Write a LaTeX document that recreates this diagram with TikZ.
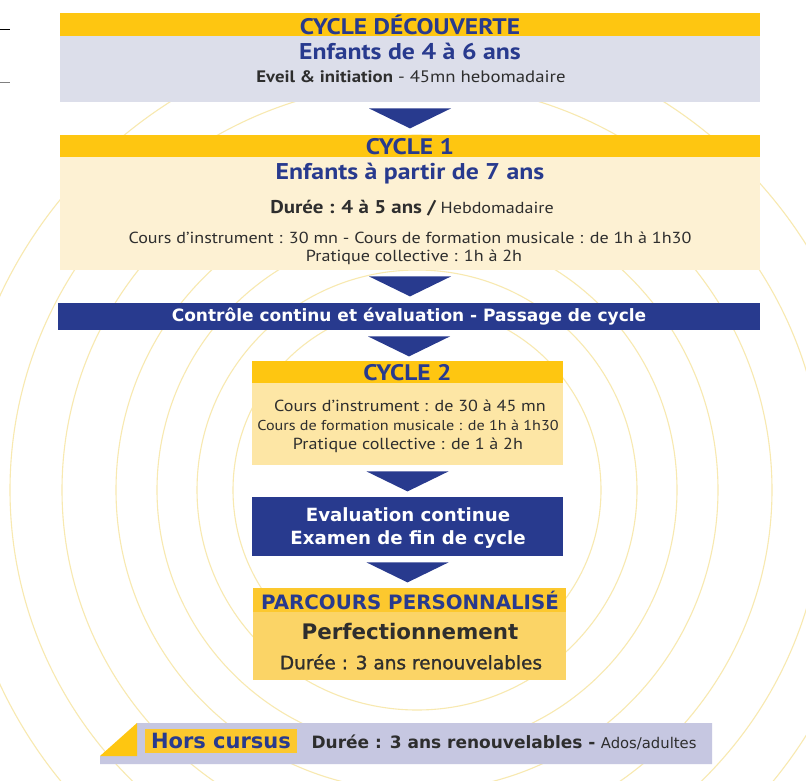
\documentclass[tikz,border=0pt]{standalone}
\usepackage{fontspec}
\setmainfont{PT Sans}[FakeStretch=1.13]
\newfontfamily\verdfont{DejaVu Sans}
\newfontfamily\verdsemi{DejaVu Sans}[FakeBold=1.3]
\usetikzlibrary{positioning}

\definecolor{navy}{HTML}{283A8E}
\definecolor{gold}{HTML}{FEC611}
\definecolor{lav}{HTML}{DCDEEA}
\definecolor{cream}{HTML}{FDF1D3}
\definecolor{pale}{HTML}{FDE6A5}
\definecolor{parcband}{HTML}{FCC82E}
\definecolor{parcbody}{HTML}{FBD466}
\definecolor{horsbar}{HTML}{C6C7E1}
\definecolor{ringcol}{HTML}{F8E9B0}
\definecolor{ink}{HTML}{2E2E2E}

% triangle pointing down under a box
\newcommand{\pointer}[1]{%
  \fill[navy] ([xshift=-41pt,yshift=-6pt]#1) -- ([xshift=41pt,yshift=-6pt]#1)
    -- ([yshift=-26pt]#1) -- cycle;}

\begin{document}
\begin{tikzpicture}[
	x=1pt, y=-1pt,
	panel/.style={inner sep=0pt, anchor=north},
	band/.style={panel, fill=gold, minimum height=23pt},
	ring/.style={draw=ringcol, line width=1.1pt},
	head/.style={text=navy, font=\bfseries\fontsize{22.5}{22.5}\selectfont},
	kids/.style={text=navy, font=\bfseries\fontsize{22.8}{22.8}\selectfont},
	body/.style={text=ink, font=\fontsize{16}{16}\selectfont},
	whitetxt/.style={text=white, font=\verdfont\bfseries\fontsize{17}{17}\selectfont}
	]

	\clip (0,0) rectangle (806,780);
	\fill[white] (0,0) rectangle (806,780);
	\useasboundingbox (0,0) rectangle (806,780);

	% rings in the background
	\foreach \r in {184,220,260,301,355,407,460}
		\draw[ring] (417,490) circle[radius=\r];

	\draw[black, line width=1pt] (0,29) -- (10,29);
	\draw[gray, line width=1pt] (0,82) -- (10,82);

	% cycle decouverte
	\node[panel, fill=lav, minimum width=700pt, minimum height=89pt] (decouv) at (410,13) {};
	\node[band, minimum width=700pt] (decouvHead) at (decouv.north) {};
	\node[head] (decouvTitle) at (decouvHead) {CYCLE DÉCOUVERTE};
	\node[kids] (decouvKids) at (410,51) {Enfants de 4 à 6 ans};
	\node[body, font=\fontsize{16.6}{16.6}\selectfont] (decouvTxt) at (411,77) {\textbf{Eveil \& initiation} - 45mn hebomadaire};

	% cycle 1
	\node[panel, fill=cream, minimum width=700pt, minimum height=135pt] (cyc1) at (410,135) {};
	\node[band, minimum width=700pt, minimum height=22pt] (cyc1Head) at (cyc1.north) {};
	\node[head] (cyc1Title) at (cyc1Head) {CYCLE 1};
	\node[kids] (cyc1Kids) at (410,174) {Enfants à partir de 7 ans};
	\node[body] (cyc1Dur) at (412,208) {{\bfseries\fontsize{18.5}{18.5}\selectfont Durée : 4 à 5 ans /} Hebdomadaire};
	\node[body] (cyc1Cours) at (410,238) {Cours d’instrument : 30 mn - Cours de formation musicale : de 1h à 1h30};
	\node[body] (cyc1Prat) at (414,257) {Pratique collective : 1h à 2h};

	% controle
	\node[panel, fill=navy, minimum width=702pt, minimum height=27pt] (ctrl) at (409,303) {};
	\node[whitetxt] (ctrlTxt) at (ctrl) {Contrôle continu et évaluation - Passage de cycle};

	% cycle 2
	\node[panel, fill=pale, minimum width=311pt, minimum height=104pt] (cyc2) at (407.5,361) {};
	\node[band, minimum width=311pt, minimum height=22pt] (cyc2Head) at (cyc2.north) {};
	\node[head] (cyc2Title) at (cyc2Head) {CYCLE 2};
	\node[body] (cyc2a) at (410,406) {Cours d’instrument : de 30 à 45 mn};
	\node[body, font=\fontsize{14.3}{14.3}\selectfont] (cyc2b) at (408,425) {Cours de formation musicale : de 1h à 1h30};
	\node[body] (cyc2c) at (408,445) {Pratique collective : de 1 à 2h};

	% evaluation
	\node[panel, fill=navy, minimum width=311pt, minimum height=59pt] (eval) at (407.5,497) {};
	\node[whitetxt, font=\verdfont\bfseries\fontsize{18.2}{18.2}\selectfont] (evalA) at (408,515) {Evaluation continue};
	\node[whitetxt, font=\verdfont\bfseries\fontsize{18.2}{18.2}\selectfont] (evalB) at (408,540) {Examen de fin de cycle};

	% parcours
	\node[panel, fill=parcbody, minimum width=313pt, minimum height=92pt] (parc) at (409.5,588) {};
	\node[panel, fill=parcband, minimum width=313pt, minimum height=24pt] (parcHead) at (parc.north) {};
	\node[text=navy, font=\verdfont\bfseries\fontsize{19.8}{19.8}\selectfont] (parcTitle) at (410,600) {PARCOURS PERSONNALISÉ};
	\node[text=ink, font=\verdfont\bfseries\fontsize{21.4}{21.4}\selectfont] (parcPerf) at (410,632) {Perfectionnement};
	\node[text=ink, font=\verdsemi\fontsize{18.5}{18.5}\selectfont] (parcDur) at (411,662) {Durée : 3 ans renouvelables};

	% arrows between the boxes
	\pointer{decouv.south}
	\pointer{cyc1.south}
	\pointer{ctrl.south}
	\pointer{cyc2.south}
	\pointer{eval.south}

	% hors cursus
	\fill[horsbar] (137,723) -- (712,723) -- (712,764) -- (100,764) -- (100,756) -- (137,756) -- cycle;
	\fill[gold] (100,756) -- (137,723) -- (137,756) -- cycle;
	\node[fill=parcband, inner sep=0pt, minimum height=24pt, minimum width=152pt] (horsLabel) at (221,741) {};
	\node[text=navy, font=\verdfont\bfseries\fontsize{21}{21}\selectfont] (horsTxt) at (horsLabel) {Hors cursus};
	\node[text=ink, anchor=west, font=\verdfont\fontsize{17}{17}\selectfont] (horsDur) at (308,742)
		{\textbf{Durée : 3 ans renouvelables -} {\fontsize{14.8}{14.8}\selectfont Ados/adultes}};

\end{tikzpicture}
\end{document}
